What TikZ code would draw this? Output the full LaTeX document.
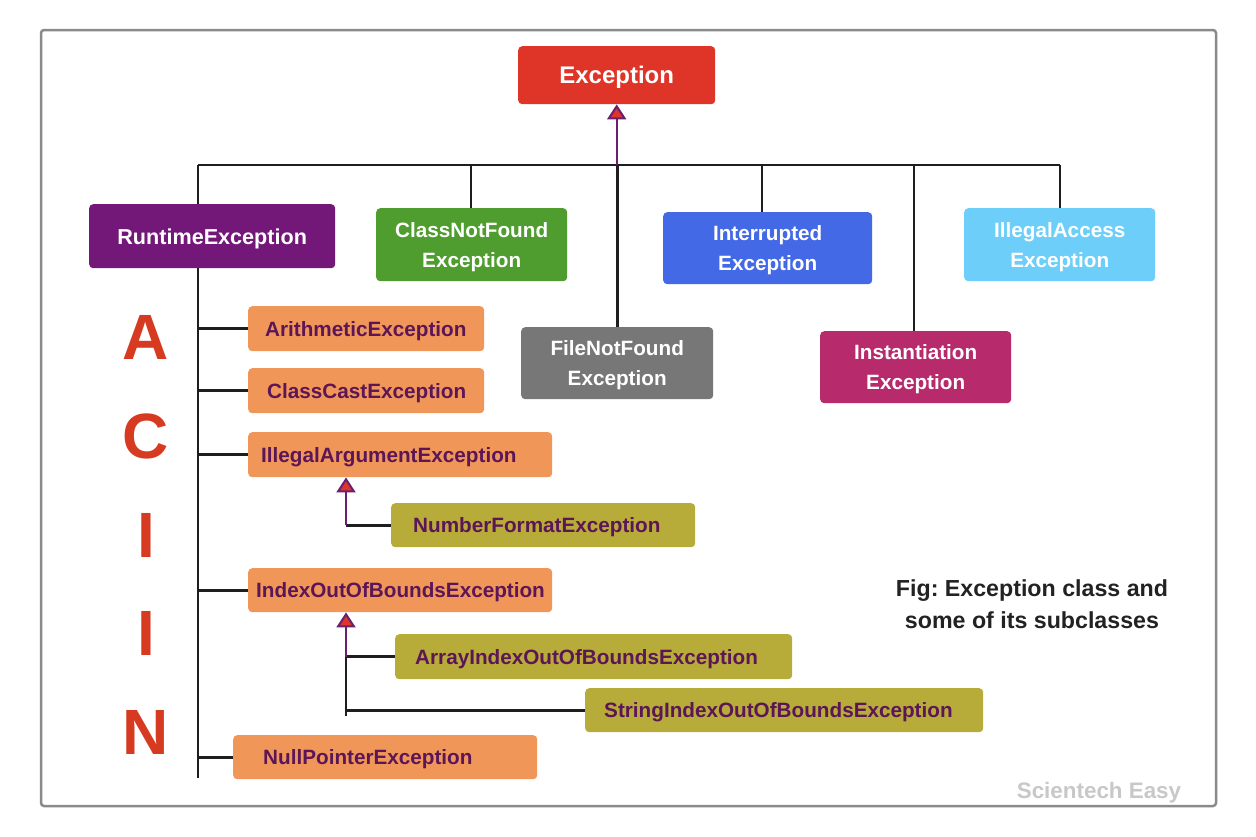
\documentclass[tikz,border=0pt]{standalone}
\usepackage{fontspec}
\setmainfont{Liberation Sans}
\usetikzlibrary{arrows.meta}
\frenchspacing
\definecolor{exred}{HTML}{DF3428}
\definecolor{rtpurple}{HTML}{731779}
\definecolor{cnfgreen}{HTML}{4F9C2F}
\definecolor{fnfgray}{HTML}{777777}
\definecolor{intblue}{HTML}{4469E6}
\definecolor{iaccblue}{HTML}{6DCEF9}
\definecolor{instmag}{HTML}{B72A6C}
\definecolor{orbox}{HTML}{F19659}
\definecolor{olbox}{HTML}{B7AB3A}
\definecolor{txpurple}{HTML}{5C1656}
\definecolor{letred}{HTML}{D63B22}
\definecolor{framegray}{HTML}{8A8A8A}
\definecolor{arrpurple}{HTML}{6B1F6E}
\definecolor{captext}{HTML}{222222}
\definecolor{wmgray}{HTML}{C8C8C8}
\definecolor{linecol}{HTML}{1E1E1E}
\begin{document}
\begin{tikzpicture}[x=1pt,y=-1pt,
  boxbase/.style={rectangle, rounded corners=4pt, inner sep=0pt, anchor=north west,
    font=\bfseries\fontsize{20.7}{30}\selectfont},
  topbox/.style={boxbase, text=white, align=center},
  oneline/.style={text depth=0pt},
  leftbox/.style 2 args={boxbase, text=txpurple, align=left, oneline,
    minimum width=#1, text width=#1-2*#2, inner xsep=#2},
  orange/.style={fill=orbox},
  olive/.style={fill=olbox},
  conn/.style={draw=linecol, line width=2.8pt},
  parrow/.style={draw=arrpurple, line width=2pt,
    -{Triangle[width=19pt,length=15pt,fill=exred]}},
  letter/.style={font=\bfseries\fontsize{64}{64}\selectfont, text=letred, inner sep=0pt}
]
\useasboundingbox (0,0) rectangle (1256,836);
\fill[white] (0,0) rectangle (1256,836);
\draw[framegray, line width=2.5pt, rounded corners=3pt] (41,30) rectangle (1216,806);

% top level
\node[topbox, oneline, fill=exred, minimum width=197pt, minimum height=58pt,
  font=\bfseries\fontsize{24}{28}\selectfont] (exc) at (518,46) {Exception};
\node[topbox, oneline, fill=rtpurple, minimum width=246pt, minimum height=64pt,
  font=\bfseries\fontsize{21.6}{28}\selectfont] (rt) at (89,204) {RuntimeException};
\node[topbox, fill=cnfgreen, minimum width=191pt, minimum height=73pt] (cnf) at (376,208) {ClassNotFound\\\smash{Exception}};
\node[topbox, fill=fnfgray, minimum width=192pt, minimum height=72pt] (fnf) at (521,327) {FileNotFound\\\smash{Exception}};
\node[topbox, fill=intblue, minimum width=209pt, minimum height=72pt] (int) at (663,212) {Interrupted\\\smash{Exception}};
\node[topbox, fill=iaccblue, minimum width=191pt, minimum height=73pt] (iacc) at (964,208) {IllegalAccess\\\smash{Exception}};
\node[topbox, fill=instmag, minimum width=191pt, minimum height=72pt] (inst) at (820,331) {Instantiation\\\smash{Exception}};

% runtime subclasses
\node[leftbox={236pt}{17pt}, orange, minimum height=45pt] (arith) at (248,306) {ArithmeticException};
\node[leftbox={236pt}{19pt}, orange, minimum height=45pt] (ccast) at (248,368) {ClassCastException};
\node[leftbox={304pt}{13pt}, orange, minimum height=45pt] (illarg) at (248,432) {IllegalArgumentException};
\node[leftbox={304pt}{8pt}, orange, minimum height=44pt] (ioob) at (248,568) {IndexOutOfBoundsException};
\node[leftbox={304pt}{30pt}, orange, minimum height=44pt] (npe) at (233,735) {NullPointerException};
\node[leftbox={304pt}{22pt}, olive, minimum height=44pt] (nfe) at (391,503) {NumberFormatException};
\node[leftbox={397pt}{20pt}, olive, minimum height=45pt] (aioobe) at (395,634) {ArrayIndexOutOfBoundsException};
\node[leftbox={398pt}{19pt}, olive, minimum height=44pt] (sioobe) at (585,688) {StringIndexOutOfBoundsException};

% bus and drops
\coordinate (busL) at (198,165);
\coordinate (busR) at (1060,165);
\draw[conn] (busL) -- (busR);
\draw[conn] (busL) -- (busL |- rt.north);
\draw[conn] (471,165) -- (471,0 |- cnf.north);
\draw[conn] (fnf.north |- busL) -- (fnf.north);
\draw[conn] (762,165) -- (762,0 |- int.north);
\draw[conn] (914,165) -- (914,0 |- inst.north);
\draw[conn] (busR) -- (busR |- iacc.north);
\draw[parrow] (exc.south |- busL) -- (exc.south);

% runtime trunk
\coordinate (trT) at (198,268);
\coordinate (trB) at (198,778);
\draw[conn] (trT) -- (trB);
\foreach \n in {arith,ccast,illarg,ioob,npe}
  \draw[conn] (trT |- \n.west) -- (\n.west);

% IllegalArgument -> NumberFormat
\coordinate (sx) at (346,0);
\draw[conn] (nfe.west) -- (sx |- nfe.west);
\draw[parrow] (sx |- nfe.west) -- (sx |- illarg.south);

% IndexOutOfBounds -> Array / String
\coordinate (sbot) at (346,716);
\draw[conn] (sbot) -- (sx |- aioobe.west);
\draw[conn] (aioobe.west) -- (sx |- aioobe.west);
\draw[conn] (sioobe.west) -- (sx |- sioobe.west);
\draw[parrow] (sx |- aioobe.west) -- (sx |- ioob.south);

% letters
\node[letter] (la) at (146,337) {A};
\node[letter] (lc) at (146,436) {C};
\node[letter] (li1) at (146,535) {I};
\node[letter] (li2) at (146,633) {I};
\node[letter] (ln) at (146,732) {N};

% caption
\node[font=\bfseries\fontsize{23.2}{32}\selectfont, text=captext, align=center] (cap) at (1032,604)
  {Fig: Exception class and\\some of its subclasses};
\node[font=\bfseries\fontsize{22.4}{24}\selectfont, text=wmgray] (wm) at (1099,793) {Scientech Easy};
\end{tikzpicture}
\end{document}
